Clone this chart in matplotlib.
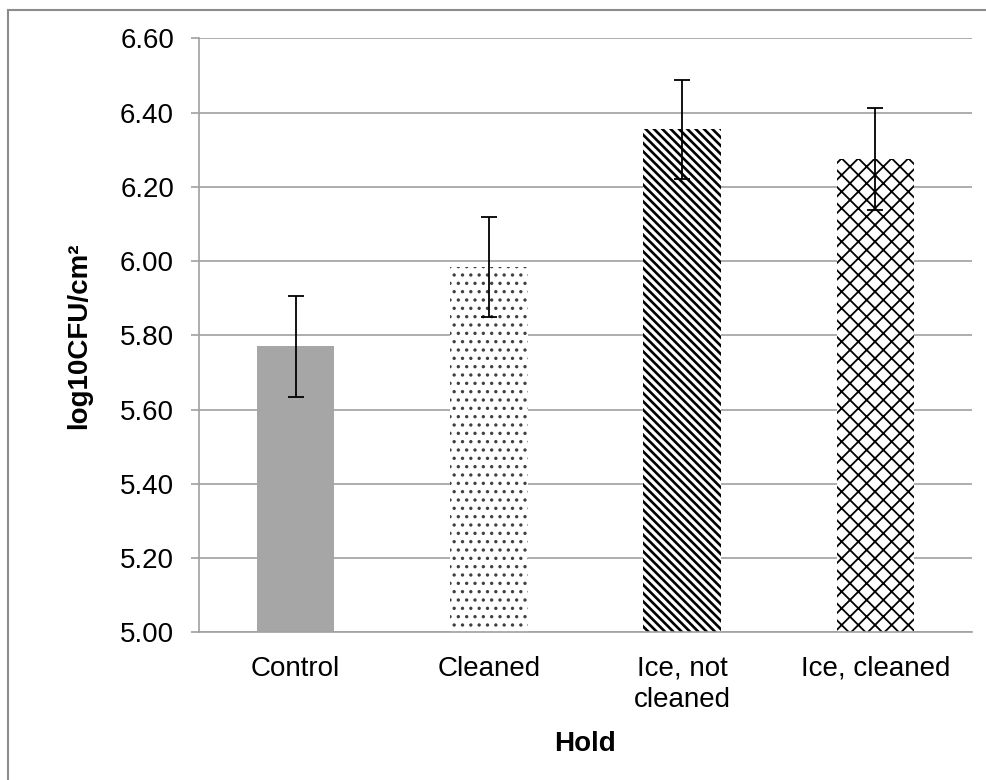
import numpy as np
import matplotlib
matplotlib.use("Agg")
from matplotlib import pyplot as plt
from matplotlib.lines import Line2D

plt.rcParams['font.family'] = ['Liberation Sans', 'DejaVu Sans']

categories = ['Control', 'Cleaned', 'Ice, not\ncleaned', 'Ice, cleaned']
values = [5.77, 5.985, 6.355, 6.275]
errors = [0.135, 0.135, 0.133, 0.137]
yticks = [5.00, 5.20, 5.40, 5.60, 5.80, 6.00, 6.20, 6.40, 6.60]

GRID = '#a0a0a0'

fig = plt.figure(figsize=(9.86, 7.8), dpi=100)
ax = fig.add_axes([199 / 986, 1 - 632.3 / 780, (972 - 199) / 986, (632.3 - 38.3) / 780])

# outer chart frame (only left and top edges are visible)
fig.add_artist(Line2D([7.5 / 986, 7.5 / 986], [0, 1 - 10 / 780], transform=fig.transFigure,
                      color='#8c8c8c', lw=1.5))
fig.add_artist(Line2D([7.5 / 986, 1], [1 - 10 / 780, 1 - 10 / 780], transform=fig.transFigure,
                      color='#8c8c8c', lw=1.5))

x = np.arange(len(categories))
styles = [
    dict(color='#a6a6a6', hatch=None, lw_h=1.0),
    dict(color='#404040', hatch='..', lw_h=1.2),
    dict(color='#000000', hatch='\\\\\\\\', lw_h=1.9),
    dict(color='#000000', hatch='xx', lw_h=1.3),
]

for xi, v, st in zip(x, values, styles):
    if st['hatch'] is None:
        ax.bar(xi, v - 5.0, bottom=5.0, width=0.4, color=st['color'], zorder=2)
    else:
        b = ax.bar(xi, v - 5.0, bottom=5.0, width=0.4, facecolor='white',
                   edgecolor=st['color'], hatch=st['hatch'], linewidth=0, zorder=2)
        for p in b:
            if hasattr(p, 'set_hatch_linewidth'):
                p.set_hatch_linewidth(st['lw_h'])

ax.errorbar(x, values, yerr=errors, fmt='none', ecolor='black', elinewidth=1.3,
            capsize=6, capthick=1.3, zorder=3)

ax.set_xlim(-0.5, 3.5)
ax.set_ylim(5.0, 6.6)
ax.set_yticks(yticks)
ax.set_yticklabels(['%.2f' % t for t in yticks])
ax.set_xticks(x)
ax.set_xticklabels(categories, fontsize=20, linespacing=1.25, va='top')
ax.tick_params(axis='y', labelsize=20, length=6, width=1.2, color=GRID, pad=12)
ax.tick_params(axis='x', length=0, pad=17)

ax.yaxis.grid(True, color=GRID, lw=1.2)
ax.set_axisbelow(True)
for s in ['top', 'right']:
    ax.spines[s].set_visible(False)
for s in ['left', 'bottom']:
    ax.spines[s].set_color(GRID)
    ax.spines[s].set_linewidth(1.2)

ax.set_ylabel('log10CFU/cm²', fontsize=20, fontweight='bold', labelpad=20)
ax.set_xlabel('Hold', fontsize=20, fontweight='bold', labelpad=13)

fig.savefig('out.png', dpi=100)
